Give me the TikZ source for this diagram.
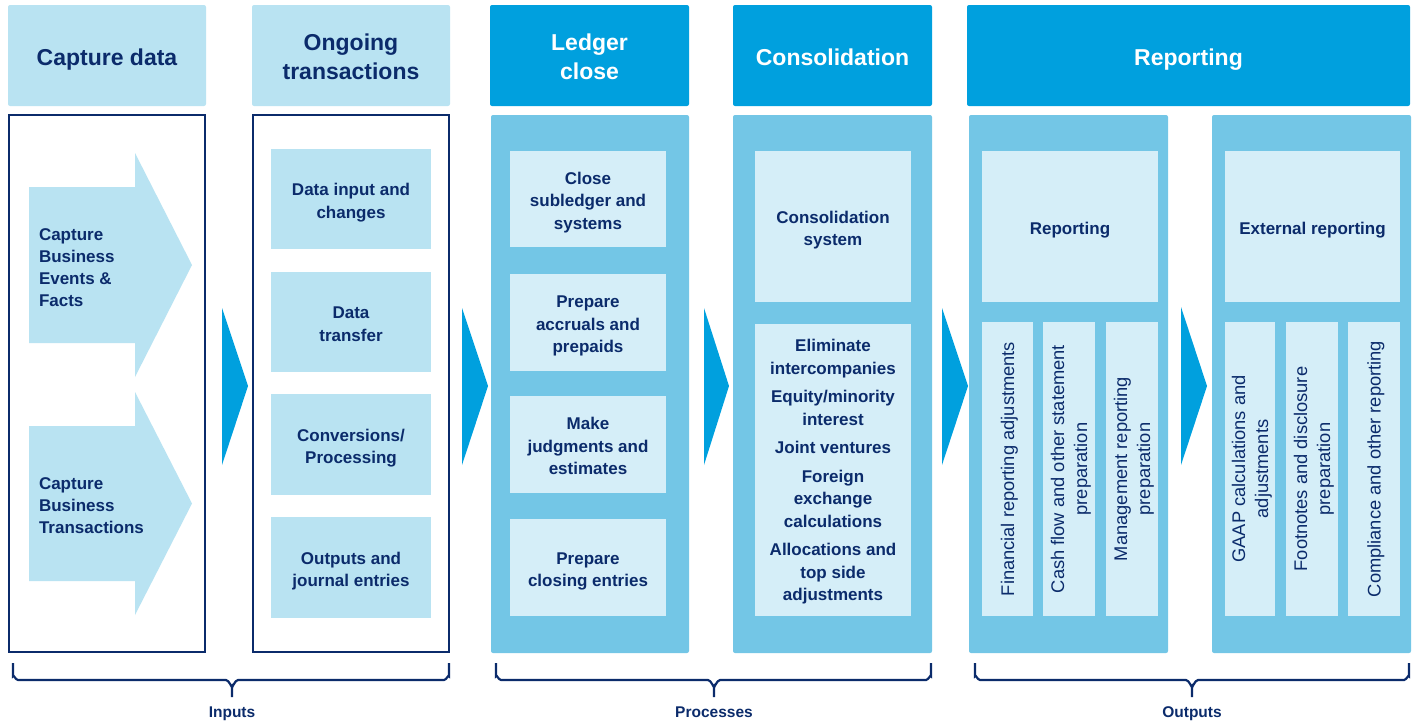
\documentclass[tikz,border=0pt]{standalone}
\usepackage{fontspec}
\setmainfont{Liberation Sans}
\definecolor{navy}{HTML}{0B2B6B}
\definecolor{lightb}{HTML}{B9E3F2}
\definecolor{midb}{HTML}{73C6E6}
\definecolor{paleb}{HTML}{D5EEF8}
\definecolor{brightb}{HTML}{00A0DE}
\newcommand\Ht{\rule{0pt}{25pt}}
\newcommand\Hd{\rule[-5.5pt]{0pt}{5.5pt}}
\newcommand\Bt{\rule{0pt}{20pt}}
\newcommand\Bd{\rule[-4.5pt]{0pt}{4.5pt}}
\newcommand\Ct{\rule{0pt}{16.5pt}}
\newcommand\Rt{\rule{0pt}{17.5pt}}
\begin{document}
\begin{tikzpicture}[x=1pt,y=-1pt,
  every node/.style={inner sep=0pt, outer sep=0pt},
  hdr/.style={anchor=north west, rounded corners=2pt, align=center, font=\bfseries\fontsize{23}{29}\selectfont},
  hdrlight/.style={hdr, fill=lightb, text=navy},
  hdrblue/.style={hdr, fill=brightb, text=white},
  whitebody/.style={anchor=north west, draw=navy, line width=1.4pt, fill=white},
  bluebody/.style={anchor=north west, fill=midb, rounded corners=2pt},
  txt/.style={text=navy, align=center, font=\bfseries\fontsize{17}{22.5}\selectfont},
  inbox/.style={anchor=north west, fill=lightb, txt},
  pbox/.style={anchor=north west, fill=paleb, txt},
  subbox/.style={fill=paleb, text=navy, align=center, rotate=90, minimum width=294pt, font=\fontsize{18.3}{23}\selectfont},
  arrtxt/.style={anchor=west, text=navy, align=left, font=\bfseries\fontsize{17}{22}\selectfont},
  chev/.style={fill=brightb},
  brace/.style={draw=navy, line width=2.2pt},
  bracelbl/.style={anchor=base, text=navy, font=\bfseries\fontsize{15.5}{18}\selectfont}
]
\useasboundingbox (0,0) rectangle (1418,721);

% headers
\node[hdrlight, minimum width=198pt, minimum height=101pt] (h1) at (8,5) {\Ht Capture data\Hd};
\node[hdrlight, minimum width=198pt, minimum height=101pt] (h2) at (252,5) {\Ht Ongoing\\transactions\Hd};
\node[hdrblue, minimum width=199pt, minimum height=101pt] (h3) at (490,5) {\Ht Ledger\\close\Hd};
\node[hdrblue, minimum width=199pt, minimum height=101pt] (h4) at (733,5) {\Ht Consolidation\Hd};
\node[hdrblue, minimum width=443pt, minimum height=101pt] (h5) at (967,5) {\Ht Reporting\Hd};

% bodies
\node[whitebody, minimum width=196pt, minimum height=537pt] (b1) at (9,115) {};
\node[whitebody, minimum width=196pt, minimum height=537pt] (b2) at (253,115) {};
\node[bluebody, minimum width=198pt, minimum height=538pt] (b3) at (491,115) {};
\node[bluebody, minimum width=199pt, minimum height=538pt] (b4) at (733,115) {};
\node[bluebody, minimum width=199pt, minimum height=538pt] (b5) at (969,115) {};
\node[bluebody, minimum width=199pt, minimum height=538pt] (b6) at (1212,115) {};

% capture data arrows
\fill[lightb] (29,187) -- (135,187) -- (135,153) -- (192,265) -- (135,377) -- (135,343) -- (29,343) -- cycle;
\fill[lightb] (29,426) -- (135,426) -- (135,392) -- (192,503.5) -- (135,615) -- (135,581) -- (29,581) -- cycle;
\node[arrtxt] (a1) at (39,268) {Capture\\Business\\Events \&\\Facts};
\node[arrtxt] (a2) at (39,506) {Capture\\Business\\Transactions};

% ongoing transactions
\node[inbox, minimum width=160pt, minimum height=100pt] (o1) at (271,149) {\Bt Data input and\\changes\Bd};
\node[inbox, minimum width=160pt, minimum height=100pt] (o2) at (271,272) {\Bt Data\\transfer\Bd};
\node[inbox, minimum width=160pt, minimum height=101pt] (o3) at (271,394) {\Bt Conversions/\\Processing\Bd};
\node[inbox, minimum width=160pt, minimum height=101pt] (o4) at (271,517) {\Bt Outputs and\\journal entries\Bd};

% ledger close
\node[pbox, minimum width=156pt, minimum height=96pt] (l1) at (510,151) {\Bt Close\\subledger and\\systems\Bd};
\node[pbox, minimum width=156pt, minimum height=97pt] (l2) at (510,274) {\Bt Prepare\\accruals and\\prepaids\Bd};
\node[pbox, minimum width=156pt, minimum height=97pt] (l3) at (510,396) {\Bt Make\\judgments and\\estimates\Bd};
\node[pbox, minimum width=156pt, minimum height=97pt] (l4) at (510,519) {\Bt Prepare\\closing entries\Bd};

% consolidation
\node[pbox, minimum width=156pt, minimum height=151pt] (c1) at (755,151) {\Bt Consolidation\\system\Bd};
\node[pbox, minimum width=156pt, minimum height=292pt] (c2) at (755,324) {\Ct Eliminate\\intercompanies\\[6pt]Equity/minority\\interest\\[6pt]Joint ventures\\[6pt]Foreign\\exchange\\calculations\\[6pt]Allocations and\\top side\\adjustments\Bd};

% reporting
\node[pbox, minimum width=176pt, minimum height=151pt] (r1) at (982,151) {\Bt Reporting\Bd};
\node[pbox, minimum width=175pt, minimum height=151pt] (r2) at (1225,151) {\Bt External reporting\Bd};
\node[subbox, minimum height=51pt] (s1) at (1007.5,469) {\Rt Financial reporting adjustments\Bd};
\node[subbox, minimum height=52pt] (s2) at (1069,469) {\Rt Cash flow and other statement\\preparation\Bd};
\node[subbox, minimum height=52pt] (s3) at (1132,469) {\Rt Management reporting\\preparation\Bd};
\node[subbox, minimum height=50pt] (s4) at (1250,469) {\Rt GAAP calculations and\\adjustments\Bd};
\node[subbox, minimum height=52pt] (s5) at (1312,469) {\Rt Footnotes and disclosure\\preparation\Bd};
\node[subbox, minimum height=52pt] (s6) at (1374,469) {\Rt Compliance and other reporting\Bd};

% chevrons
\fill[chev] (222,308) -- (248,386) -- (222,465) -- cycle;
\fill[chev] (462,308) -- (488,386) -- (462,465) -- cycle;
\fill[chev] (704,308) -- (729,386) -- (704,465) -- cycle;
\fill[chev] (942,308) -- (968,386) -- (942,465) -- cycle;
\fill[chev] (1181,307) -- (1207,386) -- (1181,465) -- cycle;

% braces
\coordinate (t1) at (232,697);
\draw[brace] (13,663) -- (13,676) to[out=90,in=180] (18,680) -- (226,680) to[out=0,in=-90] (232,686) -- (t1);
\draw[brace] (232,686) to[out=-90,in=180] (238,680) -- (444,680) to[out=0,in=90] (449,676) -- (449,663);
\coordinate (t2) at (714,697);
\draw[brace] (496,663) -- (496,676) to[out=90,in=180] (501,680) -- (708,680) to[out=0,in=-90] (714,686) -- (t2);
\draw[brace] (714,686) to[out=-90,in=180] (720,680) -- (926,680) to[out=0,in=90] (931,676) -- (931,663);
\coordinate (t3) at (1192,697);
\draw[brace] (975,663) -- (975,676) to[out=90,in=180] (980,680) -- (1186,680) to[out=0,in=-90] (1192,686) -- (t3);
\draw[brace] (1192,686) to[out=-90,in=180] (1198,680) -- (1404,680) to[out=0,in=90] (1409,676) -- (1409,663);
\node[bracelbl] (p1) at (232,717.5) {Inputs};
\node[bracelbl] (p2) at (714,717.5) {Processes};
\node[bracelbl] (p3) at (1192,717.5) {Outputs};
\end{tikzpicture}
\end{document}
